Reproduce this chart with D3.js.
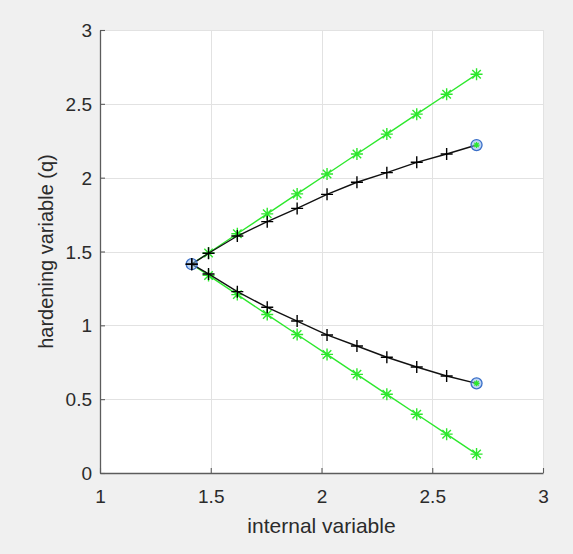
<!DOCTYPE html>
<html>
<head>
<meta charset="utf-8">
<script src="https://cdn.jsdelivr.net/npm/d3@7"></script>
<style>
  html, body { margin: 0; padding: 0; background: #f0f0f0; }
  svg { display: block; }
  text { font-family: "Liberation Sans", Arial, Helvetica, sans-serif; fill: #2b2b2b; }
</style>
</head>
<body>
<svg id="chart" width="573" height="554"></svg>
<script>
// Internal variable samples (shared by every series)
const internalVar = [1.414, 1.49, 1.62, 1.755, 1.89, 2.025, 2.16, 2.295, 2.43, 2.565, 2.70];
// Hardening variable q, curved (black) branches
const qUpperCurve = [1.414, 1.488, 1.605, 1.702, 1.792, 1.887, 1.969, 2.034, 2.104, 2.160, 2.221];
const qLowerCurve = [1.414, 1.348, 1.228, 1.122, 1.029, 0.935, 0.860, 0.784, 0.718, 0.657, 0.607];
// Hardening variable q, linear (green) branches
const qUpperLinear = [1.414, 1.49, 1.62, 1.755, 1.89, 2.025, 2.16, 2.295, 2.43, 2.565, 2.70];
const qLowerLinear = [1.414, 1.338, 1.208, 1.073, 0.938, 0.803, 0.668, 0.533, 0.398, 0.263, 0.128];
// Circled points: start and the two ends of the curved branches
const circX = [1.414, 2.70, 2.70];
const circY = [1.414, 2.221, 0.607];

const xTicks = [1, 1.5, 2, 2.5, 3];
const yTicks = [0, 0.5, 1, 1.5, 2, 2.5, 3];

const svg = d3.select("#chart");
const L = 100, R = 543, T = 30, B = 473;

const x = d3.scaleLinear().domain([1, 3]).range([L, R]);
const y = d3.scaleLinear().domain([0, 3]).range([B, T]);

// plot area
svg.append("rect").attr("x", L).attr("y", T).attr("width", R - L).attr("height", B - T).attr("fill", "#ffffff");

// grid
const grid = svg.append("g").attr("stroke", "#e2e2e2").attr("stroke-width", 1);
grid.selectAll("line.gx").data(xTicks).join("line")
  .attr("x1", d => Math.round(x(d)) + 0.5).attr("x2", d => Math.round(x(d)) + 0.5)
  .attr("y1", T).attr("y2", B);
grid.selectAll("line.gy").data(yTicks).join("line")
  .attr("y1", d => Math.round(y(d)) + 0.5).attr("y2", d => Math.round(y(d)) + 0.5)
  .attr("x1", L).attr("x2", R);

// axes (ticks point inward)
const xAxis = d3.axisBottom(x).tickValues(xTicks).tickSizeInner(-5).tickSizeOuter(0).tickPadding(17)
  .tickFormat(d3.format("~g"));
const yAxis = d3.axisLeft(y).tickValues(yTicks).tickSizeInner(-5).tickSizeOuter(0).tickPadding(8)
  .tickFormat(d3.format("~g"));

const gx = svg.append("g").attr("transform", `translate(0,${B})`).call(xAxis);
const gy = svg.append("g").attr("transform", `translate(${L},0)`).call(yAxis);
[gx, gy].forEach(g => {
  g.select(".domain").attr("stroke", "#5c5c5c").attr("stroke-width", 1.3);
  g.selectAll(".tick line").attr("stroke", "#5c5c5c").attr("stroke-width", 1.1);
  g.selectAll(".tick text").attr("fill", "#2b2b2b").style("font-size", "19px")
    .style("font-family", '"Liberation Sans", Arial, sans-serif');
});
gx.selectAll(".tick text").attr("dy", "0.71em");
gy.selectAll(".tick text").attr("dy", "0.35em");

// axis titles
svg.append("text").attr("x", 321.5).attr("y", 533).attr("text-anchor", "middle")
  .style("font-size", "21px").text("internal variable");
svg.append("text").attr("transform", `translate(53,${(T + B) / 2}) rotate(-90)`).attr("text-anchor", "middle")
  .style("font-size", "20px").text("hardening variable (q)");

const line = d3.line().x(d => x(d[0])).y(d => y(d[1]));
const zip = (a, b) => a.map((v, i) => [v, b[i]]);

const green = "#2de82d";
const plot = svg.append("g");

function starPath(r) {
  const d = r * Math.SQRT1_2;
  return `M${-r},0L${r},0M0,${-r}L0,${r}M${-d},${-d}L${d},${d}M${-d},${d}L${d},${-d}`;
}
function plusPath(r) {
  return `M${-r},0L${r},0M0,${-r}L0,${r}`;
}

// linear branches
[qUpperLinear, qLowerLinear].forEach(ys => {
  const pts = zip(internalVar, ys);
  plot.append("path").attr("d", line(pts)).attr("fill", "none").attr("stroke", green).attr("stroke-width", 1.4);
  plot.append("g").selectAll("path").data(pts.slice(1)).join("path")
    .attr("transform", d => `translate(${x(d[0])},${y(d[1])})`)
    .attr("d", starPath(6)).attr("stroke", green).attr("stroke-width", 1.4).attr("fill", "none");
});

// curved branches
[qUpperCurve, qLowerCurve].forEach(ys => {
  const pts = zip(internalVar, ys);
  plot.append("path").attr("d", line(pts)).attr("fill", "none").attr("stroke", "#111").attr("stroke-width", 1.4);
});

// circles
const circ = zip(circX, circY);
plot.append("g").selectAll("circle").data(circ).join("circle")
  .attr("cx", d => x(d[0])).attr("cy", d => y(d[1])).attr("r", 5.5)
  .attr("fill", "rgba(140,180,235,0.55)").attr("stroke", "#3a6fc8").attr("stroke-width", 1.3);
// small green marks inside the end circles
plot.append("g").selectAll("path").data(circ.slice(1)).join("path")
  .attr("transform", d => `translate(${x(d[0])},${y(d[1])})`)
  .attr("d", starPath(3)).attr("stroke", green).attr("stroke-width", 1.2).attr("fill", "none");

// plus markers on curved branches (all but the last sample)
[qUpperCurve, qLowerCurve].forEach(ys => {
  const pts = zip(internalVar, ys).slice(0, -1);
  plot.append("g").selectAll("path").data(pts).join("path")
    .attr("transform", d => `translate(${x(d[0])},${y(d[1])})`)
    .attr("d", plusPath(6)).attr("stroke", "#000").attr("stroke-width", 1.4).attr("fill", "none");
});
</script>
</body>
</html>
